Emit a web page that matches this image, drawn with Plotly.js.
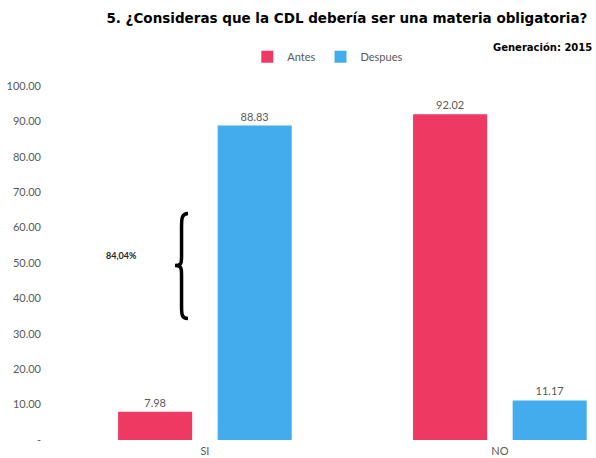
<!DOCTYPE html>
<html>
<head>
<meta charset="utf-8">
<script src="https://cdn.plot.ly/plotly-3.0.1.min.js"></script>
<style>html,body{margin:0;padding:0;background:#fff;}#chart{width:596px;height:458px;}</style>
</head>
<body>
<div id="chart"></div>
<script>
const categories = ['SI', 'NO'];
const antes = [7.98, 92.02];
const despues = [88.83, 11.17];
const yTickVals = [0, 10, 20, 30, 40, 50, 60, 70, 80, 90, 100];
const yTickText = ['-', '10.00', '20.00', '30.00', '40.00', '50.00', '60.00', '70.00', '80.00', '90.00', '100.00'];
const braceLabel = '84,04%';

const FONT = 'Lato, "Open Sans", sans-serif';
const TFONT = '"DejaVu Sans", sans-serif';
const gray = '#595959';

const traces = [
  {type: 'bar', name: 'Antes', x: categories, y: antes,
   marker: {color: '#EE3A63'}, texttemplate: '%{y:.2f}', textposition: 'outside',
   textfont: {color: gray, size: 11, family: FONT}, cliponaxis: false, hoverinfo: 'none'},
  {type: 'bar', name: 'Despues', x: categories, y: despues,
   marker: {color: '#42ACEC'}, texttemplate: '%{y:.2f}', textposition: 'outside',
   textfont: {color: gray, size: 11, family: FONT}, cliponaxis: false, hoverinfo: 'none'}
];

const bx1 = 0.2183, bxm = 0.2305, bx2 = 0.2425;
const bracePath = `M ${bx2},64 C ${bxm},64 ${bxm},62.5 ${bxm},60 L ${bxm},52 C ${bxm},50 ${bxm},49.3 ${bx1},49.3 C ${bxm},49.3 ${bxm},48.5 ${bxm},46.5 L ${bxm},38 C ${bxm},35.5 ${bxm},34.3 ${bx2},34.3`;

const layout = {
  width: 596, height: 458,
  margin: {l: 58, r: 2, t: 86, b: 18},
  paper_bgcolor: '#fff', plot_bgcolor: '#fff',
  font: {family: FONT, color: gray, size: 11},
  title: {text: '<b>5. ¿Consideras que la CDL debería ser una materia obligatoria?</b>',
          font: {family: TFONT, size: 13.5, color: '#000'}, x: 0.582, xanchor: 'center', y: 0.96, yanchor: 'middle'},
  barmode: 'group', bargap: 0.325, bargroupgap: 0.256,
  showlegend: true,
  legend: {orientation: 'h', x: 0.55, xanchor: 'center', xref: 'container', y: 0.876, yanchor: 'middle', yref: 'container',
           itemwidth: 30, font: {family: FONT, size: 11, color: gray}},
  xaxis: {type: 'category', range: [-0.498, 1.319], showgrid: false, zeroline: false, showline: false,
          ticks: '', ticklabelstandoff: 3, tickfont: {family: FONT, size: 11, color: gray}},
  yaxis: {range: [0, 100], tickvals: yTickVals, ticktext: yTickText, showgrid: false, zeroline: false,
          showline: false, ticks: '', ticklabelstandoff: 16, tickfont: {family: FONT, size: 11, color: gray}},
  annotations: [
    {text: '<b>Generación: 2015</b>', xref: 'paper', yref: 'paper', x: 1, xanchor: 'right', y: 1.11, yanchor: 'middle',
     showarrow: false, font: {family: TFONT, size: 10, color: '#000'}},
    {text: '<b>' + braceLabel + '</b>', xref: 'paper', yref: 'y', x: 0.119, xanchor: 'center', y: 52, yanchor: 'middle',
     showarrow: false, font: {family: FONT, size: 9, color: '#262626'}}
  ],
  shapes: [
    {type: 'path', xref: 'paper', yref: 'y', path: bracePath, line: {color: '#000', width: 3.5}}
  ]
};

Plotly.newPlot('chart', traces, layout, {displayModeBar: false, staticPlot: true});
</script>
</body>
</html>
